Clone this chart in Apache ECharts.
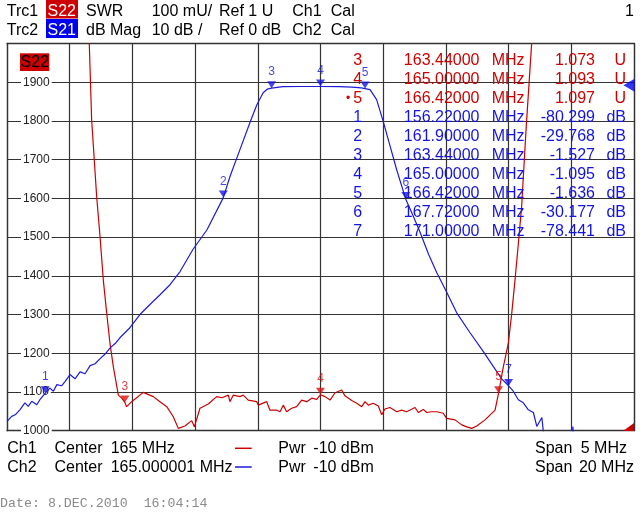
<!DOCTYPE html>
<html><head><meta charset="utf-8">
<script src="https://cdn.jsdelivr.net/npm/echarts@6/dist/echarts.min.js"></script>
<style>html,body{margin:0;padding:0;background:#fff}#c{width:640px;height:527px}</style>
</head><body><div id="c"></div>
<script>
// ---- Trace data ----
// Trc1: S22 SWR (Ch1, 162.5 - 167.5 MHz), [MHz, U]
const s22Trace = [[162.50,6.0],[163.10,2.5],[163.156,2.001],[163.175,1.803],[163.215,1.605],[163.242,1.501],[163.268,1.389],[163.295,1.304],[163.321,1.226],[163.348,1.165],[163.388,1.092],[163.415,1.084],[163.44,1.073],[163.454,1.062],[163.494,1.075],[163.587,1.099],[163.667,1.088],[163.720,1.075],[163.774,1.062],[163.826,1.036],[163.866,1.006],[163.919,1.012],[163.973,1.026],[163.994,1.010],[164.039,1.058],[164.105,1.069],[164.172,1.088],[164.215,1.085],[164.265,1.092],[164.278,1.075],[164.305,1.092],[164.358,1.088],[164.384,1.092],[164.424,1.079],[164.491,1.075],[164.504,1.066],[164.571,1.075],[164.597,1.053],[164.651,1.053],[164.677,1.049],[164.703,1.066],[164.730,1.049],[164.770,1.058],[164.810,1.062],[164.850,1.079],[164.890,1.075],[164.930,1.084],[164.970,1.081],[165.000,1.093],[165.036,1.088],[165.076,1.079],[165.116,1.098],[165.169,1.105],[165.195,1.090],[165.249,1.078],[165.289,1.071],[165.329,1.062],[165.355,1.075],[165.381,1.066],[165.421,1.071],[165.461,1.064],[165.488,1.041],[165.514,1.056],[165.554,1.060],[165.608,1.049],[165.648,1.053],[165.687,1.049],[165.754,1.060],[165.780,1.047],[165.820,1.055],[165.847,1.047],[165.887,1.049],[165.927,1.049],[165.979,1.045],[166.006,1.032],[166.073,1.028],[166.126,1.015],[166.166,1.010],[166.206,1.006],[166.246,1.012],[166.312,1.028],[166.392,1.053],[166.420,1.097],[166.458,1.165],[166.498,1.226],[166.525,1.303],[166.551,1.389],[166.578,1.484],[166.604,1.579],[166.639,1.777],[166.684,2.001],[166.75,2.6],[167.50,6.0]];
// Trc2: S21 dB Mag (Ch2, 155 - 175 MHz), [MHz, dB]
const s21Trace = [[155.00,-87.6],[155.15,-86.3],[155.26,-85.9],[155.41,-84.6],[155.57,-82.8],[155.68,-83.7],[155.79,-82.4],[155.95,-83.3],[156.05,-82.0],[156.22,-80.3],[156.37,-79.0],[156.48,-79.8],[156.59,-78.1],[156.74,-78.4],[156.85,-77.3],[157.01,-75.5],[157.17,-76.6],[157.33,-74.8],[157.49,-75.3],[157.65,-73.2],[157.81,-72.7],[157.97,-71.4],[158.13,-70.2],[158.29,-68.6],[158.45,-67.5],[158.60,-66.0],[158.92,-63.4],[159.24,-60.0],[159.56,-57.4],[159.88,-54.9],[160.20,-52.3],[160.52,-48.9],[160.93,-43.2],[161.38,-38.1],[161.90,-29.8],[162.11,-24.4],[162.43,-17.4],[162.75,-10.4],[162.97,-5.8],[163.17,-2.7],[163.30,-1.8],[163.44,-1.53],[163.80,-1.15],[164.40,-1.1],[165.00,-1.1],[165.60,-1.15],[166.00,-1.25],[166.30,-1.45],[166.42,-1.64],[166.58,-1.9],[166.79,-4.5],[167.00,-10.1],[167.22,-16.5],[167.43,-22.6],[167.72,-30.2],[167.96,-34.6],[168.17,-38.6],[168.45,-44.5],[168.71,-49.2],[169.03,-54.3],[169.34,-59.5],[169.77,-64.7],[170.19,-69.5],[170.51,-73.4],[170.78,-76.6],[171.00,-78.4],[171.15,-79.8],[171.31,-82.0],[171.47,-82.8],[171.63,-84.6],[171.79,-85.3],[171.90,-88.9],[172.06,-86.6],[172.11,-90.3],[172.26,-92.3],[172.60,-95],[173.00,-95],[173.05,-88.9],[173.10,-95],[175.00,-95]];

// ---- Markers ----
const s22MarkerNo = [3, 4, 5];
const s22MarkerFreq = [163.44, 165.00, 166.42];
const s22MarkerSwr = [1.073, 1.093, 1.097];
const s22ActiveMarker = 5;
const s21MarkerNo = [1, 2, 3, 4, 5, 6, 7];
const s21MarkerFreq = [156.22, 161.90, 163.44, 165.00, 166.42, 167.72, 171.00];
const s21MarkerDb = [-80.299, -29.768, -1.527, -1.095, -1.636, -30.177, -78.441];

// ---- Axes ----
const ch1Range = [162.5, 167.5];   // Center 165 MHz, Span 5 MHz
const ch2Range = [155, 175];       // Center 165 MHz, Span 20 MHz
const swrRange = [1.0, 2.0];       // 100 mU/div, Ref 1 U
const dbRange = [-90, 10];         // 10 dB/div, Ref 0 dB

// ---- Texts ----
const header1 = ['Trc1', 'S22', 'SWR', '100 mU/', 'Ref 1 U', 'Ch1', 'Cal'];
const header2 = ['Trc2', 'S21', 'dB Mag', '10 dB /', 'Ref 0 dB', 'Ch2', 'Cal'];
const footer1 = ['Ch1', 'Center', '165 MHz', 'Pwr', '-10 dBm', 'Span', '5 MHz'];
const footer2 = ['Ch2', 'Center', '165.000001 MHz', 'Pwr', '-10 dBm', 'Span', '20 MHz'];
const dateText = 'Date: 8.DEC.2010  16:04:14';

const RED = '#cc0000', BLUE = '#1c1cd8', BLUE_T = '#1414e0', GRID = '#333';
const FONT = 'Liberation Sans';

const chart = echarts.init(document.getElementById('c'), null, {renderer: 'canvas'});

const g = [];
function txt(x, y, s, opt) {
  g.push({type: 'text', x: x, y: y, silent: true, z: 100,
    style: Object.assign({text: s, fill: '#000', fontSize: 16, fontFamily: FONT, align: 'left', verticalAlign: 'middle'}, opt || {})});
}
function rect(x, y, w, h, c) {
  g.push({type: 'rect', silent: true, z: 99, shape: {x: x, y: y, width: w, height: h}, style: {fill: c}});
}
function line(x1, y1, x2, y2, c) {
  g.push({type: 'line', silent: true, z: 99, shape: {x1: x1, y1: y1, x2: x2, y2: y2}, style: {stroke: c, lineWidth: 1.5}});
}

// header
const hx = [6.7, 47.5, 86, 151.7, 219, 292.3, 330.7];
rect(46, 0, 32, 18.5, RED);
rect(46, 19, 32, 19, '#0000f0');
[header1, header2].forEach((row, r) => {
  const y = r === 0 ? 11.5 : 30.5;
  row.forEach((s, i) => txt(hx[i], y, s, i === 1 ? {fill: '#fff'} : {}));
});
txt(625, 11.5, '1');

// S22 tag in plot
rect(20, 53.3, 29.3, 17.7, RED);
txt(20.6, 62.8, 'S22');

// marker table
const rowsT = [];
s22MarkerNo.forEach((n, i) => rowsT.push({n: n, f: s22MarkerFreq[i], v: s22MarkerSwr[i].toFixed(3), u: 'U', c: RED, act: n === s22ActiveMarker}));
s21MarkerNo.forEach((n, i) => rowsT.push({n: n, f: s21MarkerFreq[i], v: s21MarkerDb[i].toFixed(3), u: 'dB', c: BLUE_T, act: false}));
rowsT.forEach((r, i) => {
  const y = 60.5 + i * 19.05;
  if (r.act) txt(348, y, '•', {fill: r.c, align: 'center', fontSize: 12});
  txt(357.8, y, String(r.n), {fill: r.c, align: 'center'});
  txt(479.5, y, r.f.toFixed(5), {fill: r.c, align: 'right'});
  txt(491.7, y, 'MHz', {fill: r.c});
  txt(595, y, r.v, {fill: r.c, align: 'right'});
  txt(626, y, r.u, {fill: r.c, align: 'right'});
});

// footer
const fx = [7.3, 54.5, 110.7, 278.3, 313.3, 535];
const fxRight = [627, 634];
[footer1, footer2].forEach((row, r) => {
  const y = r === 0 ? 448.5 : 467.2;
  row.forEach((s, i) => {
    if (i < 6) txt(fx[i], y, s);
    else txt(fxRight[r], y, s, {align: 'right'});
  });
});
line(235, 448.3, 251.7, 448.3, RED);
line(235, 467, 251.7, 467, BLUE);
txt(0, 503.5, dateText, {fontFamily: 'Liberation Mono', fontSize: 13.3, fill: '#8a8a8a'});

// bottom-right corner indicator
g.push({type: 'polygon', silent: true, z: 99, shape: {points: [[634, 431], [634, 423], [623, 431]]}, style: {fill: RED}});

const axLine = {show: true, onZero: false, lineStyle: {color: GRID, width: 1.3}};
const split = {show: true, lineStyle: {color: GRID, width: 1.2}};

const markerSeries = (name, data, color, xi, yi) => ({
  name: name, type: 'scatter', xAxisIndex: xi, yAxisIndex: yi, clip: false, z: 5,
  symbol: 'triangle', symbolRotate: 180, symbolSize: [9, 7], symbolOffset: [0, -3.5],
  itemStyle: {color: color},
  label: {show: true, position: 'top', distance: 3, color: color, fontSize: 12, fontFamily: FONT,
    formatter: p => String(p.value[2])},
  data: data
});

chart.setOption({
  animation: false,
  backgroundColor: '#fff',
  grid: {left: 7, right: 6, top: 43.5, bottom: 96.3, containLabel: false},
  xAxis: [
    {type: 'value', min: ch1Range[0], max: ch1Range[1], interval: 0.5, position: 'bottom',
      axisLine: axLine, axisTick: {show: false}, axisLabel: {show: false}, splitLine: split},
    {type: 'value', min: ch2Range[0], max: ch2Range[1], interval: 2, position: 'top',
      axisLine: axLine, axisTick: {show: false}, axisLabel: {show: false}, splitLine: {show: false}}
  ],
  yAxis: [
    {type: 'value', min: swrRange[0], max: swrRange[1], interval: 0.1, position: 'left',
      axisLine: axLine, axisTick: {show: false}, splitLine: split,
      axisLabel: {inside: true, margin: 14, showMaxLabel: false, color: '#222', fontSize: 12, fontFamily: FONT,
        backgroundColor: '#fff', padding: [0, 2],
        formatter: v => String(Math.round(v * 1000))}},
    {type: 'value', min: dbRange[0], max: dbRange[1], interval: 10, position: 'right',
      axisLine: axLine, axisTick: {show: false}, axisLabel: {show: false}, splitLine: {show: false}}
  ],
  series: [
    {name: 'S22', type: 'line', xAxisIndex: 0, yAxisIndex: 0, data: s22Trace, showSymbol: false,
      lineStyle: {color: RED, width: 1.2}, z: 3},
    {name: 'S21', type: 'line', xAxisIndex: 1, yAxisIndex: 1, data: s21Trace, showSymbol: false,
      lineStyle: {color: BLUE, width: 1.2}, z: 3},
    markerSeries('S22 markers', s22MarkerNo.map((n, i) => [s22MarkerFreq[i], s22MarkerSwr[i], n]), '#dd1111', 0, 0),
    markerSeries('S21 markers', s21MarkerNo.map((n, i) => [s21MarkerFreq[i], s21MarkerDb[i], n]), BLUE_T, 1, 1),
    {name: 'S21 ref', type: 'scatter', xAxisIndex: 1, yAxisIndex: 1, clip: false, z: 6,
      symbol: 'triangle', symbolRotate: 90, symbolSize: [13, 11], symbolOffset: [-5, 3],
      itemStyle: {color: '#0000f0'}, data: [[ch2Range[1], 0]]}
  ],
  graphic: g
});
</script>
</body></html>
